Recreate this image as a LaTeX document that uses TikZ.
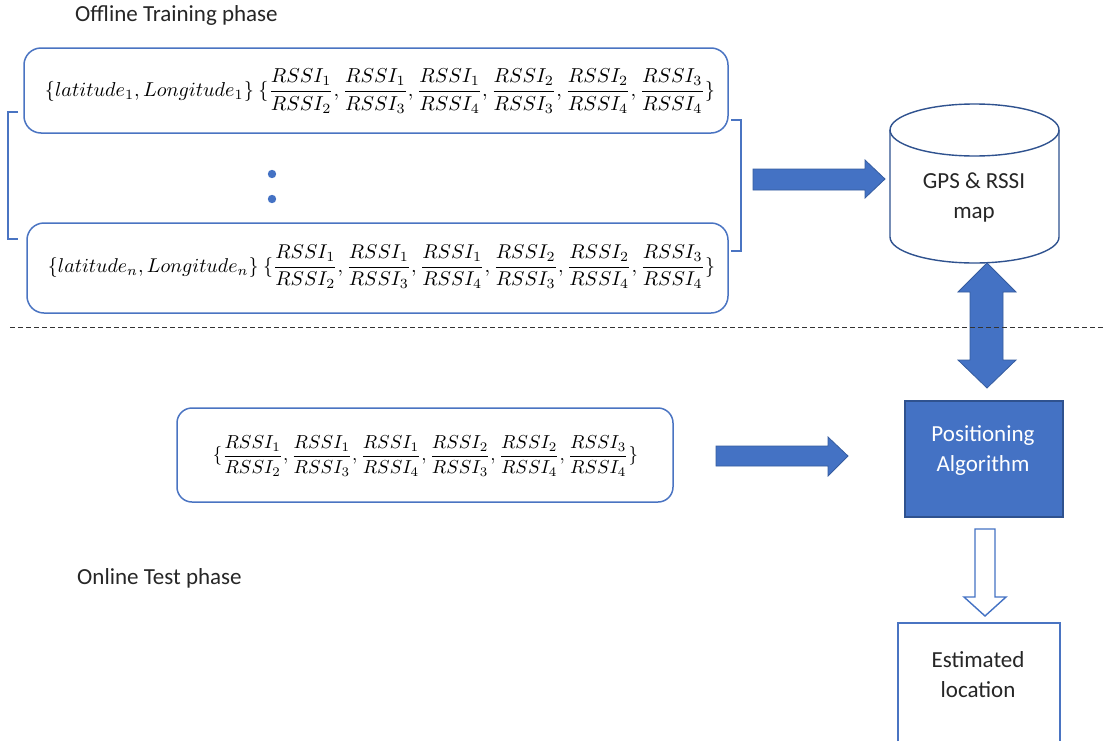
\documentclass[tikz,border=0pt]{standalone}
\usepackage{amsmath}
\usepackage{graphicx}
\usepackage{fontspec}
\setmainfont{Carlito}
\definecolor{accent}{HTML}{4472C4}
\definecolor{accentdark}{HTML}{2F528F}
\definecolor{boxline}{HTML}{4A74C2}
\newcommand{\rr}[2]{\dfrac{RSSI_{#1}}{RSSI_{#2}}}
\newcommand{\ratios}{\{\rr12,\rr13,\rr14,\rr23,\rr24,\rr34\}}
\begin{document}
\begin{tikzpicture}[x=1pt,y=-1pt,
  lbl/.style={font=\fontsize{23}{30}\selectfont, align=center, inner sep=0pt, text=black!85},
  rbox/.style={draw=boxline, line width=1.5pt, rounded corners=17pt, inner sep=0pt},
  mathtxt/.style={inner sep=0pt},
  fat/.style={fill=accent, draw=accentdark!70!accent, line width=0.8pt, line join=miter},
  hollow/.style={fill=white, draw=accent, line width=1.4pt, line join=miter},
  bracket/.style={draw=boxline, line width=1.5pt}]
\useasboundingbox (0,0) rectangle (1108,742);
\fill[white] (0,0) rectangle (1108,742);

% phase titles
\node[lbl, anchor=west] (offline) at (75,15) {Offline Training phase};
\node[lbl, anchor=west] (online) at (77,578) {Online Test phase};

% training records
\node[rbox, minimum width=704pt, minimum height=85pt] (rec1) at (376,90.5) {};
\node[mathtxt] (rec1t) at (380,91)
  {\resizebox{670pt}{!}{$\{latitude_1, Longitude_1\}\ \ratios$}};
\node[rbox, minimum width=701pt, minimum height=90pt] (recn) at (377.5,268) {};
\node[mathtxt] (recnt) at (381.5,267)
  {\resizebox{667pt}{!}{$\{latitude_n, Longitude_n\}\ \ratios$}};

% ellipsis dots
\fill[accent] (272,174) circle (4.2pt);
\fill[accent] (272,199) circle (4.2pt);

% brackets grouping the records
\draw[bracket] (18,112) -- (8,112) -- (8,239) -- (18,239);
\draw[bracket] (731,120) -- (741,120) -- (741,251) -- (731,251);

% database cylinder
\draw[accentdark, line width=1.4pt, fill=white]
  (890,130) -- (890,237) arc[start angle=180, end angle=0, x radius=84.5, y radius=26]
  -- (1059,130);
\draw[accentdark, line width=1.4pt] (974.5,130) ellipse[x radius=84.5, y radius=26];
\node[lbl] (map) at (974,197) {GPS \& RSSI\\map};

% arrow: records into the map
\draw[fat] (753,169) -- (865,169) -- (865,160) -- (885,179) -- (865,198) -- (865,190) -- (753,190) -- cycle;

% two-way arrow between map and algorithm
\draw[fat] (987,263) -- (1016,292) -- (1003,292) -- (1003,360) -- (1016,360) -- (987,388)
  -- (958,360) -- (970,360) -- (970,292) -- (958,292) -- cycle;

% separator between the phases
\draw[black!80, line width=1pt, dash pattern=on 5pt off 3pt] (10,327) -- (1105,327);

% test measurement
\node[rbox, rounded corners=15pt, minimum width=496pt, minimum height=94pt] (test) at (425,455) {};
\node[mathtxt] (testt) at (425.5,456) {\resizebox{425pt}{!}{$\ratios$}};

% arrow: measurement into the algorithm
\draw[fat] (716,446) -- (828,446) -- (828,437) -- (848,456) -- (828,476) -- (828,466) -- (716,466) -- cycle;

% positioning algorithm
\node[fill=accent, draw=accentdark, line width=1.2pt, minimum width=158pt, minimum height=116pt,
  inner sep=0pt] (algo) at (984,459) {};
\node[lbl, text=white] (algot) at (983,451) {Positioning\\Algorithm};

% output arrow
\draw[hollow] (975,529) -- (995,529) -- (995,597) -- (1006,597) -- (985,616) -- (964,597)
  -- (975,597) -- cycle;

% estimated location
\draw[boxline, line width=1.5pt] (898,741) -- (898,623) -- (1060,623) -- (1060,741);
\node[lbl] (est) at (978,675) {Estimated\\location};
\end{tikzpicture}
\end{document}
